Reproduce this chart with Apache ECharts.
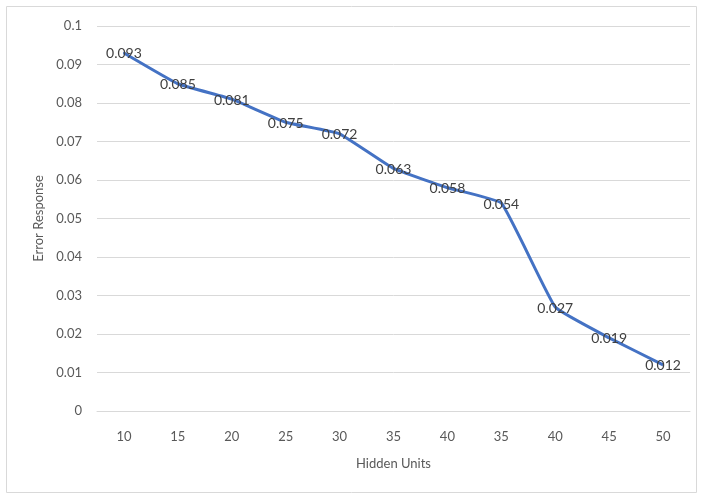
<!DOCTYPE html>
<html>
<head>
<meta charset="utf-8">
<script src="https://cdn.jsdelivr.net/npm/echarts@6/dist/echarts.min.js"></script>
<style>
  html, body { margin: 0; padding: 0; background: #fff; }
  #vis { width: 703px; height: 497px; }
</style>
</head>
<body>
<div id="vis"></div>
<script>
const hiddenUnits = ["10", "15", "20", "25", "30", "35", "40", "35", "40", "45", "50"];
const errorResponse = [0.093, 0.085, 0.081, 0.075, 0.072, 0.063, 0.058, 0.054, 0.027, 0.019, 0.012];

const font = "Lato, 'Open Sans', sans-serif";
const chart = echarts.init(document.getElementById("vis"));

chart.setOption({
  animation: false,
  textStyle: { fontFamily: font },
  graphic: [{
    type: "rect",
    shape: { x: 6.5, y: 6.5, width: 690, height: 486 },
    style: { fill: "none", stroke: "#d9d9d9", lineWidth: 1 },
    silent: true
  }],
  grid: { left: 97, right: 13, top: 26, bottom: 86 },
  xAxis: {
    type: "category",
    data: hiddenUnits,
    name: "Hidden Units",
    nameLocation: "middle",
    nameGap: 46,
    nameTextStyle: { color: "#595959", fontSize: 13, fontFamily: font },
    axisLine: { show: true, lineStyle: { color: "#d9d9d9" } },
    axisTick: { show: false },
    axisLabel: { color: "#595959", fontSize: 13, margin: 19, fontFamily: font },
    splitLine: { show: false }
  },
  yAxis: {
    type: "value",
    min: 0,
    max: 0.1,
    interval: 0.01,
    name: "Error Response",
    nameLocation: "middle",
    nameGap: 52,
    nameTextStyle: { color: "#595959", fontSize: 13, fontFamily: font },
    axisLine: { show: false },
    axisTick: { show: false },
    axisLabel: {
      color: "#595959",
      fontSize: 13,
      margin: 15,
      fontFamily: font,
      formatter: v => String(Math.round(v * 100) / 100)
    },
    splitLine: { lineStyle: { color: "#d9d9d9", width: 1 } }
  },
  series: [{
    type: "line",
    data: errorResponse,
    smooth: 0.1,
    symbol: "circle",
    symbolSize: 2,
    showSymbol: true,
    itemStyle: { color: "#4472c4", borderWidth: 0 },
    lineStyle: { color: "#4472c4", width: 3 },
    label: {
      show: true,
      position: "top",
      distance: 0,
      offset: [0, 9],
      color: "#404040",
      fontSize: 14,
      fontFamily: font,
      formatter: p => String(p.value)
    }
  }]
});
</script>
</body>
</html>
